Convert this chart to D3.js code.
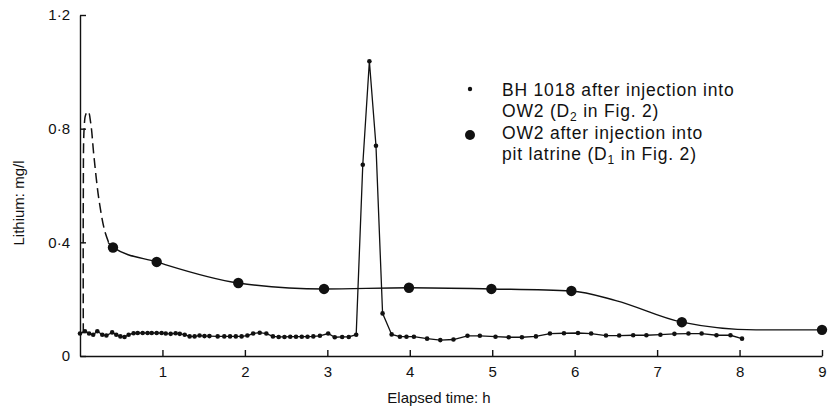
<html>
<head>
<meta charset="utf-8">
<script src="https://d3js.org/d3.v7.min.js"></script>
<style>
body { margin: 0; background: #fff; }
svg { display: block; }
text { font-family: "Liberation Sans", Arial, Helvetica, sans-serif; fill: #111; }
.axis path, .axis line { stroke: #111; stroke-width: 1.4; fill: none; }
.axis text { font-size: 15px; }
</style>
</head>
<body>
<svg width="830" height="415"></svg>
<script>

// BH 1018 after injection into OW2 (small dots)
var bhTime = [0.00,0.06,0.11,0.16,0.21,0.27,0.32,0.39,0.44,0.49,0.54,0.59,0.65,0.70,0.76,0.82,0.87,0.93,0.99,1.04,
  1.10,1.16,1.21,1.27,1.33,1.39,1.45,1.51,1.57,1.67,1.75,1.82,1.89,1.96,2.03,2.10,2.18,2.26,2.34,2.41,2.48,2.55,
  2.62,2.69,2.76,2.83,2.91,3.01,3.09,3.18,3.26,3.35,3.43,3.51,3.59,3.67,3.78,3.88,3.96,4.05,4.21,4.37,4.53,4.70,
  4.85,5.04,5.20,5.36,5.53,5.70,5.87,6.04,6.20,6.38,6.54,6.71,6.87,7.04,7.21,7.38,7.54,7.72,7.89,8.03];
var bhValue = [0.079,0.087,0.079,0.075,0.087,0.075,0.072,0.083,0.075,0.069,0.067,0.075,0.080,0.081,0.081,0.081,0.081,0.081,0.081,0.079,
  0.078,0.080,0.078,0.075,0.069,0.069,0.072,0.070,0.070,0.069,0.069,0.069,0.069,0.069,0.072,0.079,0.082,0.079,0.069,0.067,0.067,0.068,
  0.068,0.068,0.068,0.069,0.071,0.079,0.066,0.067,0.067,0.075,0.673,1.037,0.740,0.150,0.076,0.068,0.068,0.068,0.061,0.056,0.058,0.071,
  0.071,0.068,0.066,0.066,0.069,0.079,0.080,0.081,0.079,0.072,0.072,0.073,0.073,0.075,0.078,0.079,0.079,0.073,0.073,0.061];

// OW2 after injection into pit latrine (large dots)
var owTime  = [0.40,0.93,1.92,2.96,3.99,4.99,5.96,7.30,9.00];
var owValue = [0.382,0.331,0.257,0.236,0.240,0.236,0.229,0.119,0.092];

// hand-drawn curve through OW2 (solid part) and early dashed part
var owCurveTime  = [0.34,0.40,0.93,1.92,2.96,3.99,4.99,5.96,6.50,7.30,8.20,9.00];
var owCurveValue = [0.400,0.382,0.331,0.257,0.236,0.240,0.236,0.229,0.195,0.119,0.092,0.092];
var owDashTime  = [0.04,0.04,0.05,0.07,0.10,0.13,0.17,0.23,0.30,0.36];
var owDashValue = [0.08,0.55,0.80,0.85,0.86,0.82,0.70,0.55,0.44,0.39];

var xTicks = [1,2,3,4,5,6,7,8,9];
var yTicks = [0,0.4,0.8,1.2];

var svg = d3.select("svg");

var x = d3.scaleLinear().domain([0, 9]).range([80, 822]);
var y = d3.scaleLinear().domain([0, 1.2]).range([356, 15]);

var fmt = d => d === 0 ? "0" : d3.format(".1f")(d).replace(".", "\u00B7");

svg.append("g")
    .attr("class", "axis")
    .attr("transform", "translate(0," + y(0) + ")")
    .call(d3.axisBottom(x).tickValues(xTicks).tickSizeInner(-6).tickSizeOuter(0).tickPadding(10).tickFormat(d3.format("d")));

svg.append("g")
    .attr("class", "axis")
    .attr("transform", "translate(" + x(0) + ",0)")
    .call(d3.axisLeft(y).tickValues(yTicks).tickSizeInner(-6).tickSizeOuter(0).tickPadding(10).tickFormat(fmt));

svg.selectAll(".axis .domain").attr("stroke-width", 1.6);

// axis titles
svg.append("text")
    .attr("transform", "translate(24,203) rotate(-90)")
    .attr("text-anchor", "middle")
    .style("font-size", "15px")
    .text("Lithium: mg/l");

svg.append("text")
    .attr("x", 439).attr("y", 403)
    .attr("text-anchor", "middle")
    .style("font-size", "15px")
    .text("Elapsed time: h");

// OW2 curve
var owCurve = owCurveTime.map((t, i) => [t, owCurveValue[i]]);
var owDash = owDashTime.map((t, i) => [t, owDashValue[i]]);

svg.append("path")
    .datum(owDash)
    .attr("fill", "none").attr("stroke", "#111").attr("stroke-width", 1.5)
    .attr("stroke-dasharray", "10,5")
    .attr("d", d3.line().x(d => x(d[0])).y(d => y(d[1])).curve(d3.curveCatmullRom.alpha(0.5)));

svg.append("path")
    .datum(owCurve)
    .attr("fill", "none").attr("stroke", "#111").attr("stroke-width", 1.4)
    .attr("d", d3.line().x(d => x(d[0])).y(d => y(d[1])).curve(d3.curveMonotoneX));

// BH 1018 line
var bh = bhTime.map((t, i) => [t, bhValue[i]]);
svg.append("path")
    .datum(bh)
    .attr("fill", "none").attr("stroke", "#111").attr("stroke-width", 1.3)
    .attr("d", d3.line().x(d => x(d[0])).y(d => y(d[1])));

svg.selectAll(".bhdot")
    .data(bh).enter().append("circle")
    .attr("class", "bhdot")
    .attr("cx", d => x(d[0])).attr("cy", d => y(d[1]))
    .attr("r", 2.3).attr("fill", "#111");

svg.selectAll(".owdot")
    .data(owTime.map((t, i) => [t, owValue[i]])).enter().append("circle")
    .attr("class", "owdot")
    .attr("cx", d => x(d[0])).attr("cy", d => y(d[1]))
    .attr("r", 5.2).attr("fill", "#111");

// legend
var lg = svg.append("g").attr("transform", "translate(470,0)");
lg.append("circle").attr("cx", 0).attr("cy", 89).attr("r", 2.2).attr("fill", "#111");
lg.append("circle").attr("cx", 0).attr("cy", 135).attr("r", 5).attr("fill", "#111");

var lines = [
    [["BH 1018 after injection into", null]],
    [["OW2 (D", null], ["2", "sub"], [" in Fig. 2)", null]],
    [["OW2 after injection into", null]],
    [["pit latrine (D", null], ["1", "sub"], [" in Fig. 2)", null]]
];
var baselines = [96, 117, 139, 160];

lines.forEach(function(parts, i) {
    var t = lg.append("text")
        .attr("x", 32).attr("y", baselines[i])
        .style("font-size", "17.5px")
        .style("letter-spacing", "0.8px");
    parts.forEach(function(p) {
        var s = t.append("tspan").text(p[0]);
        if (p[1] === "sub") {
            s.attr("dy", 4).style("font-size", "12px");
        } else if (t.selectAll("tspan").size() > 1) {
            s.attr("dy", -4);
        }
    });
});

</script>
</body>
</html>
